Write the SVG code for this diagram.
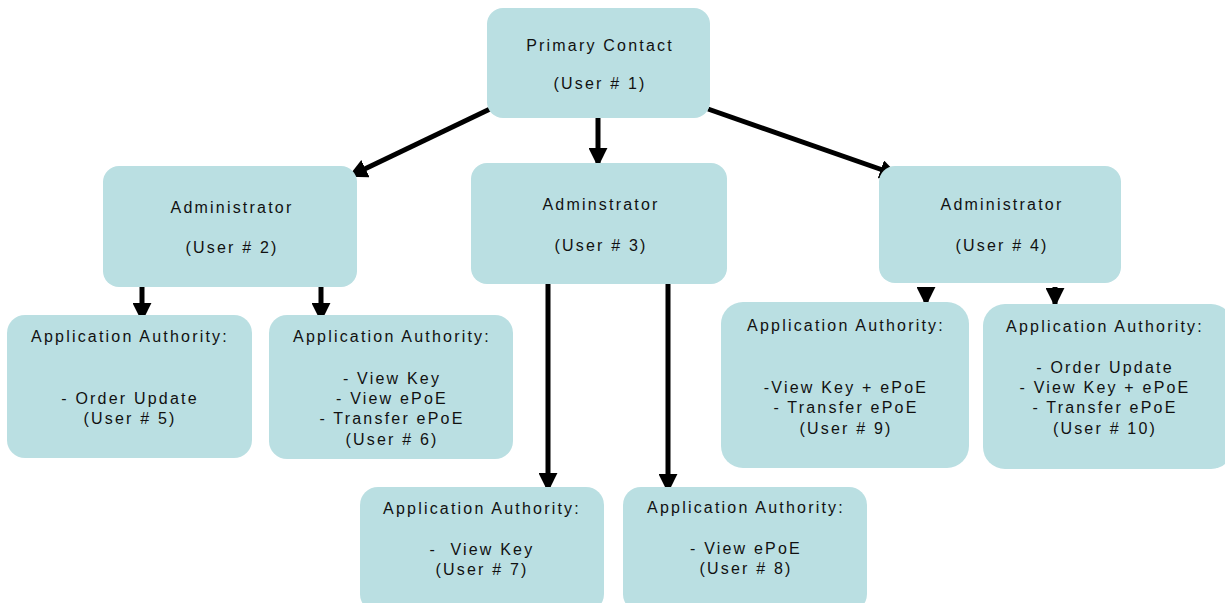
<svg xmlns="http://www.w3.org/2000/svg" width="1225" height="603" viewBox="0 0 1225 603">
<style>
.box{fill:#badfe2;}
text{font-family:"Liberation Sans",Arial,sans-serif;font-size:16px;fill:#111;text-anchor:middle;letter-spacing:2.2px;white-space:pre;}
.c{stroke:#000;stroke-width:5;fill:none;marker-end:url(#ah);}
</style>
<defs>
<marker id="ah" viewBox="0 0 10 10" refX="9" refY="5" markerWidth="3.8" markerHeight="3.8" orient="auto" markerUnits="strokeWidth">
<path d="M0,0 L10,5 L0,10 z" fill="#000"/>
</marker>
</defs>
<g id="connectors">
<line class="c" x1="490" y1="109" x2="350" y2="176"/>
<line class="c" x1="598" y1="118" x2="598" y2="165"/>
<line class="c" x1="708" y1="109" x2="897" y2="175"/>
<line class="c" x1="142" y1="287" x2="142" y2="320"/>
<line class="c" x1="321" y1="287" x2="321" y2="320"/>
<line class="c" x1="548" y1="280" x2="548" y2="490"/>
<line class="c" x1="668" y1="280" x2="668" y2="491"/>
<line class="c" x1="926" y1="287" x2="926" y2="304"/>
<line class="c" x1="1055" y1="287" x2="1055" y2="305"/>
</g>
<g id="n1"><rect class="box" x="487" y="8" width="223" height="110" rx="16"/><text x="600" y="51">Primary Contact</text><text x="600" y="89">(User # 1)</text></g>
<g id="n2"><rect class="box" x="103" y="166" width="254" height="121" rx="16"/><text x="232" y="213">Administrator</text><text x="232" y="253">(User # 2)</text></g>
<g id="n3"><rect class="box" x="471" y="163" width="256" height="121" rx="16"/><text x="601" y="210">Adminstrator</text><text x="601" y="251">(User # 3)</text></g>
<g id="n4"><rect class="box" x="879" y="166" width="242" height="117" rx="16"/><text x="1002" y="210">Administrator</text><text x="1002" y="251">(User # 4)</text></g>
<g id="n5"><rect class="box" x="7" y="315" width="245" height="143" rx="18"/><text x="130" y="342">Application Authority:</text><text x="130" y="404">- Order Update</text><text x="130" y="424">(User # 5)</text></g>
<g id="n6"><rect class="box" x="269" y="315" width="244" height="144" rx="18"/><text x="392" y="342">Application Authority:</text><text x="392" y="384">- View Key</text><text x="392" y="404">- View ePoE</text><text x="392" y="424">- Transfer ePoE</text><text x="392" y="445">(User # 6)</text></g>
<g id="n7"><rect class="box" x="360" y="487" width="244" height="125" rx="18"/><text x="482" y="514">Application Authority:</text><text x="482" y="555">-  View Key</text><text x="482" y="575">(User # 7)</text></g>
<g id="n8"><rect class="box" x="623" y="487" width="244" height="125" rx="18"/><text x="746" y="513">Application Authority:</text><text x="746" y="554">- View ePoE</text><text x="746" y="574">(User # 8)</text></g>
<g id="n9"><rect class="box" x="721" y="302" width="248" height="166" rx="22"/><text x="846" y="331">Application Authority:</text><text x="846" y="393">-View Key + ePoE</text><text x="846" y="413">- Transfer ePoE</text><text x="846" y="434">(User # 9)</text></g>
<g id="n10"><rect class="box" x="983" y="304" width="250" height="165" rx="22"/><text x="1105" y="332">Application Authority:</text><text x="1105" y="373">- Order Update</text><text x="1105" y="393">- View Key + ePoE</text><text x="1105" y="413">- Transfer ePoE</text><text x="1105" y="434">(User # 10)</text></g>
</svg>
